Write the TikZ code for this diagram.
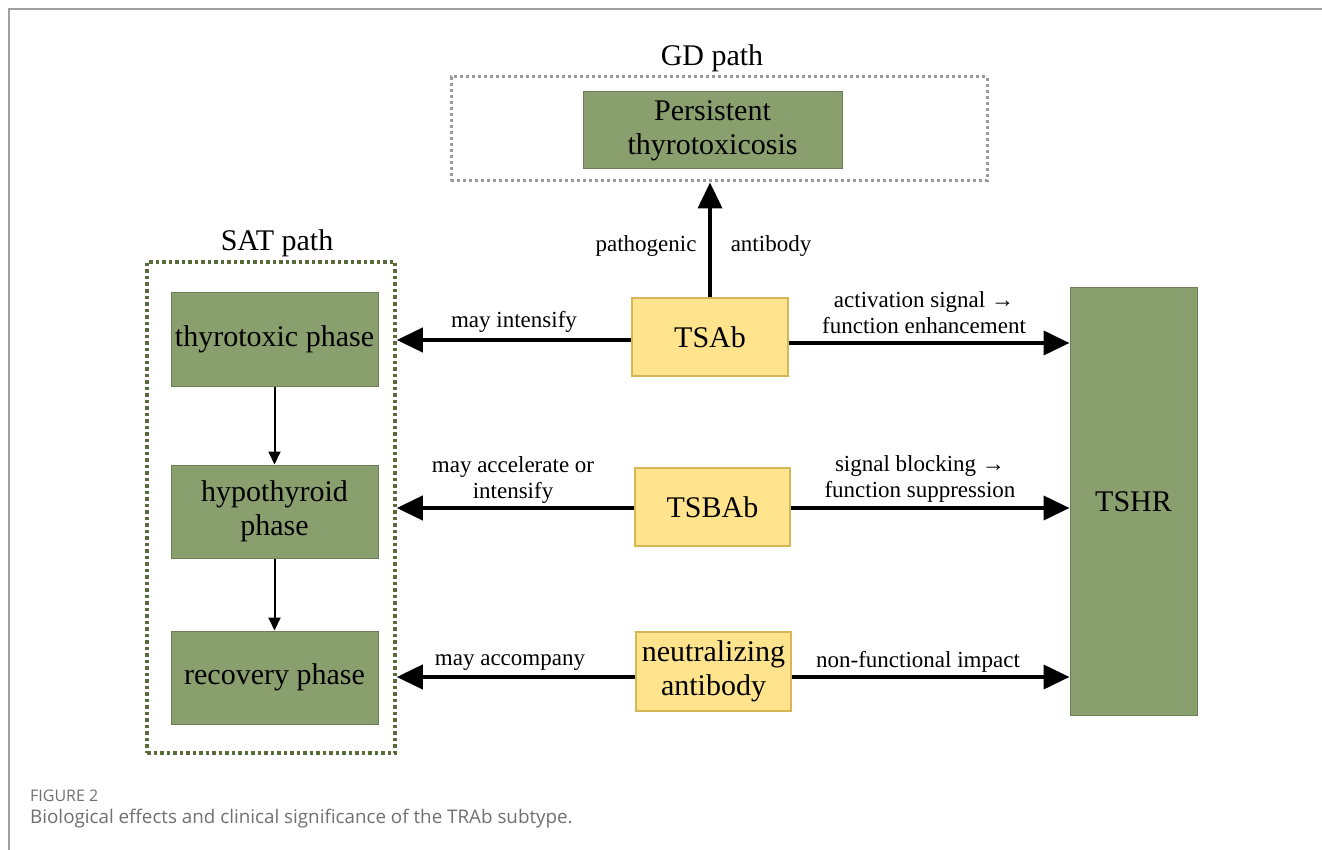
\documentclass[tikz,border=0pt]{standalone}
\usepackage{fontspec}
\setmainfont{Liberation Serif}
\newfontfamily\capfont{Open Sans}
\usetikzlibrary{arrows.meta}
\definecolor{gfill}{HTML}{8A9F6E}
\definecolor{gdraw}{HTML}{6E7F58}
\definecolor{yfill}{HTML}{FFE38D}
\definecolor{ydraw}{HTML}{D6B656}
\definecolor{satdot}{HTML}{5A6B3A}
\definecolor{gddot}{HTML}{9A9A9A}
\definecolor{framecol}{HTML}{A0A0A0}
\definecolor{capgray}{HTML}{707070}
\begin{document}
\begin{tikzpicture}[x=1pt,y=-1pt,
  mainfont/.style={font=\fontsize{30}{34}\selectfont},
  lblfont/.style={font=\fontsize{23}{26}\selectfont},
  greenbox/.style={draw=gdraw, fill=gfill, line width=1pt, mainfont, align=center, inner sep=0pt},
  yellowbox/.style={draw=ydraw, fill=yfill, line width=1.2pt, mainfont, align=center, inner sep=0pt},
  satframe/.style={draw=satdot, line width=3.5pt, dash pattern=on 3.5pt off 3pt, inner sep=0pt},
  gdframe/.style={draw=gddot, line width=3pt, dash pattern=on 3pt off 3pt, inner sep=0pt},
  bigarrow/.style={line width=4pt, -{Triangle[length=26pt,width=24pt]}},
  smallarrow/.style={line width=2pt, -{Triangle[length=13pt,width=12pt]}},
  lbl/.style={lblfont, align=center, inner sep=0pt}
]
\useasboundingbox (0,0) rectangle (1322,850);
\fill[white] (0,0) rectangle (1322,850);
\draw[framecol, line width=1.5pt] (1322,9) -- (9,9) -- (9,850);

% titles
\node[mainfont, inner sep=0pt] (gdtitle) at (712,58) {GD path};
\node[mainfont, inner sep=0pt] (sattitle) at (277,243) {SAT path};

% dotted frames
\node[gdframe, minimum width=536pt, minimum height=104pt] (gdbox) at (719,129) {};
\node[satframe, minimum width=248pt, minimum height=491pt] (satbox) at (271,507.5) {};

% green boxes
\node[greenbox, minimum width=259pt, minimum height=77pt] (persist) at (712.5,130.5) {Persistent\\thyrotoxicosis};
\node[greenbox, minimum width=207pt, minimum height=93pt] (thyro) at (274.5,339.5) {thyrotoxic phase};
\node[greenbox, minimum width=207pt, minimum height=93pt] (hypo) at (274.5,511.5) {hypothyroid\\phase};
\node[greenbox, minimum width=207pt, minimum height=93pt] (recov) at (274.5,677.5) {recovery phase};
\node[greenbox, minimum width=127pt, minimum height=427pt] (tshr) at (1133.5,501.5) {TSHR};

% yellow boxes
\node[yellowbox, minimum width=156pt, minimum height=78pt] (tsab) at (710,337) {TSAb};
\node[yellowbox, minimum width=155pt, minimum height=78pt] (tsbab) at (712.5,507) {TSBAb};
\node[yellowbox, minimum width=155pt, minimum height=79pt] (neut) at (713.5,671.5) {neutralizing\\antibody};

% arrows
\draw[bigarrow] (tsab.north) -- (tsab.north |- gdbox.south);
\draw[bigarrow] ([yshift=-3pt]tsab.west) -- ([yshift=-3pt]tsab.west -| satbox.east);
\draw[bigarrow] ([yshift=-6pt]tsab.east) -- ([yshift=-6pt]tsab.east -| tshr.west);
\draw[bigarrow] ([yshift=-1pt]tsbab.west) -- ([yshift=-1pt]tsbab.west -| satbox.east);
\draw[bigarrow] ([yshift=-1pt]tsbab.east) -- ([yshift=-1pt]tsbab.east -| tshr.west);
\draw[bigarrow] ([yshift=-5.5pt]neut.west) -- ([yshift=-5.5pt]neut.west -| satbox.east);
\draw[bigarrow] ([yshift=-5.5pt]neut.east) -- ([yshift=-5.5pt]neut.east -| tshr.west);
\draw[smallarrow] (thyro.south) -- (hypo.north);
\draw[smallarrow] (hypo.south) -- (recov.north);

% labels
\node[lbl] (l1) at (646,246) {pathogenic};
\node[lbl] (l2) at (771,246) {antibody};
\node[lbl] (l3) at (514,322) {may intensify};
\node[lbl] (l4) at (924,313) {activation signal \char"2192\\function enhancement};
\node[lbl] (l5) at (513,480) {may accelerate or\\intensify};
\node[lbl] (l6) at (920,479) {signal blocking \char"2192\\function suppression};
\node[lbl] (l7) at (510,663) {may accompany};
\node[lbl] (l8) at (918,662) {non-functional impact};

% caption
\node[anchor=west, inner sep=0pt, text=capgray, font=\capfont\fontsize{16}{19}\selectfont] (figlbl) at (30,796) {FIGURE 2};
\node[anchor=west, inner sep=0pt, text=capgray, font=\capfont\fontsize{18.8}{22}\selectfont] (caption) at (30,819) {Biological effects and clinical significance of the TRAb subtype.};
\end{tikzpicture}
\end{document}
